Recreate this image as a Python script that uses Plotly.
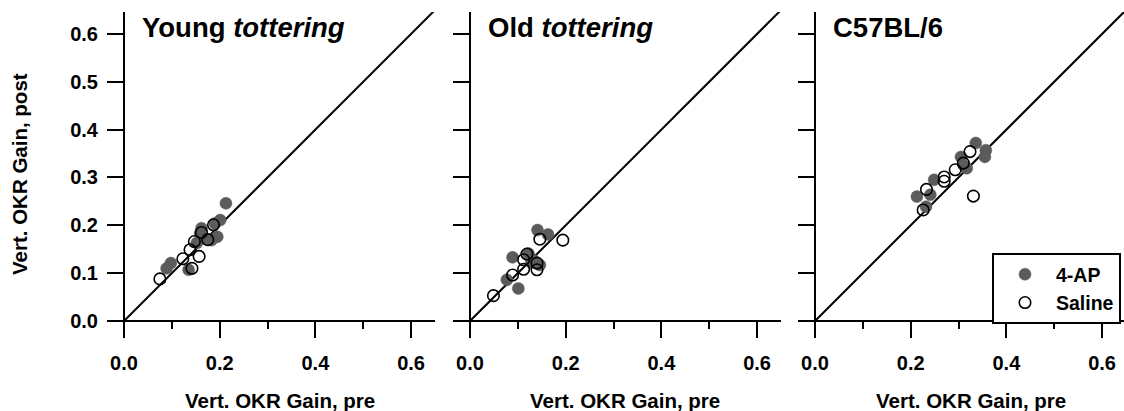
import plotly.graph_objects as go

# ---- data: vertical OKR gain before (pre) and after (post) treatment ----
panel_titles = ["Young <i>tottering</i>", "Old <i>tottering</i>", "C57BL/6"]

young_ap_pre = [0.213, 0.201, 0.190, 0.195, 0.183, 0.162, 0.159, 0.152, 0.098, 0.089, 0.135, 0.170]
young_ap_post = [0.246, 0.211, 0.204, 0.176, 0.169, 0.194, 0.183, 0.163, 0.121, 0.110, 0.107, 0.172]
young_sal_pre = [0.187, 0.147, 0.138, 0.157, 0.123, 0.142, 0.075, 0.162, 0.175]
young_sal_post = [0.201, 0.166, 0.149, 0.135, 0.130, 0.110, 0.088, 0.185, 0.170]

old_ap_pre = [0.141, 0.163, 0.089, 0.122, 0.132, 0.146, 0.077, 0.101, 0.128]
old_ap_post = [0.190, 0.181, 0.133, 0.141, 0.128, 0.117, 0.086, 0.068, 0.122]
old_sal_pre = [0.146, 0.194, 0.112, 0.119, 0.140, 0.140, 0.112, 0.089, 0.049]
old_sal_post = [0.171, 0.169, 0.128, 0.140, 0.121, 0.107, 0.108, 0.096, 0.053]

wt_ap_pre = [0.336, 0.305, 0.311, 0.317, 0.249, 0.213, 0.241, 0.232, 0.357, 0.355]
wt_ap_post = [0.372, 0.343, 0.325, 0.319, 0.295, 0.260, 0.264, 0.239, 0.357, 0.343]
wt_sal_pre = [0.324, 0.293, 0.270, 0.270, 0.233, 0.226, 0.331, 0.310]
wt_sal_post = [0.354, 0.316, 0.301, 0.292, 0.275, 0.232, 0.261, 0.330]

panels = [
    (young_ap_pre, young_ap_post, young_sal_pre, young_sal_post),
    (old_ap_pre, old_ap_post, old_sal_pre, old_sal_post),
    (wt_ap_pre, wt_ap_post, wt_sal_pre, wt_sal_post),
]

unity = [0.0, 0.7]
x_ticks = [0.0, 0.2, 0.4, 0.6]
x_tick_text = ["0.0", "0.2", "0.4", "0.6"]
y_ticks = [0.0, 0.1, 0.2, 0.3, 0.4, 0.5, 0.6]
y_tick_text = ["0.0", "0.1", "0.2", "0.3", "0.4", "0.5", "0.6"]

# ---- layout geometry (pixels) ----
W, H = 1124, 411
scale = 478.5            # px per gain unit, same on both axes
origin_px = [124, 470, 815]
origin_py = 321
xtitle_px = [280, 625, 971]
lo, hi = -0.034, 0.65
y_hi = 0.646

FONT = "Liberation Sans, Arial, sans-serif"
fill_col = "#5b5b5b"

fig = go.Figure()

for i, (ap_x, ap_y, sal_x, sal_y) in enumerate(panels):
    n = "" if i == 0 else str(i + 1)
    xa, ya = "x" + n, "y" + n
    fig.add_trace(go.Scatter(x=unity, y=unity, mode="lines", xaxis=xa, yaxis=ya,
                             line=dict(color="black", width=2), showlegend=False,
                             hoverinfo="skip", cliponaxis=True))
    fig.add_trace(go.Scatter(x=ap_x, y=ap_y, mode="markers", xaxis=xa, yaxis=ya,
                             name="4-AP", legendgroup="ap", showlegend=(i == 2),
                             marker=dict(symbol="circle", size=12, color=fill_col,
                                         line=dict(color=fill_col, width=0.5))))
    fig.add_trace(go.Scatter(x=sal_x, y=sal_y, mode="markers", xaxis=xa, yaxis=ya,
                             name="Saline", legendgroup="sal", showlegend=(i == 2),
                             marker=dict(symbol="circle-open", size=11.5, color="black",
                                         line=dict(color="black", width=1.6))))

    x0 = origin_px[i]
    left = x0 + lo * scale
    right = min(x0 + hi * scale, W)
    x_hi = (right - x0) / scale
    bottom = origin_py - lo * scale
    top = origin_py - y_hi * scale

    axis_font = dict(family=FONT, size=20, color="black", weight="bold")
    fig.layout["xaxis" + n] = dict(
        domain=[left / W, right / W], range=[lo, x_hi], anchor="free",
        position=1 - origin_py / H, showline=True, linecolor="black", linewidth=2,
        showgrid=False, zeroline=False, ticks="outside", ticklen=16, tickwidth=2,
        tickcolor="black", tickvals=x_ticks, ticktext=x_tick_text,
        tickfont=axis_font, ticklabelstandoff=8,
        minor=dict(tickvals=[0.1, 0.3, 0.5], ticks="outside", ticklen=7,
                   tickwidth=2, tickcolor="black", showgrid=False),
    )
    fig.layout["yaxis" + n] = dict(
        domain=[1 - bottom / H, 1 - top / H], range=[lo, y_hi], anchor="free",
        position=x0 / W, showline=True, linecolor="black", linewidth=2,
        showgrid=False, zeroline=False, ticks="outside", ticklen=16, tickwidth=2,
        tickcolor="black", tickvals=y_ticks, ticktext=y_tick_text,
        showticklabels=(i == 0), tickfont=axis_font, ticklabelstandoff=5,
    )

    fig.add_annotation(x=0.033, y=0.613, xref=xa, yref=ya, text=panel_titles[i],
                       showarrow=False, xanchor="left", yanchor="middle",
                       font=dict(family=FONT, size=27.5, color="black", weight="bold"))
    fig.add_annotation(x=xtitle_px[i] / W, y=1 - 400 / H, xref="paper", yref="paper",
                       text="Vert. OKR Gain, pre", showarrow=False,
                       xanchor="center", yanchor="middle",
                       font=dict(family=FONT, size=20.5, color="black", weight="bold"))

fig.add_annotation(x=20 / W, y=1 - 174 / H, xref="paper", yref="paper",
                   text="Vert. OKR Gain, post", textangle=-90, showarrow=False,
                   xanchor="center", yanchor="middle",
                   font=dict(family=FONT, size=20.5, color="black", weight="bold"))

fig.update_layout(
    width=W, height=H, margin=dict(l=0, r=0, t=0, b=0),
    paper_bgcolor="white", plot_bgcolor="rgba(0,0,0,0)",
    showlegend=True,
    legend=dict(x=992 / W, y=1 - 253 / H, xanchor="left", yanchor="top",
                bgcolor="white", bordercolor="black", borderwidth=2,
                font=dict(family=FONT, size=19.5, color="black", weight="bold"),
                itemwidth=52, tracegroupgap=0),
)

fig.write_html("out.html")
